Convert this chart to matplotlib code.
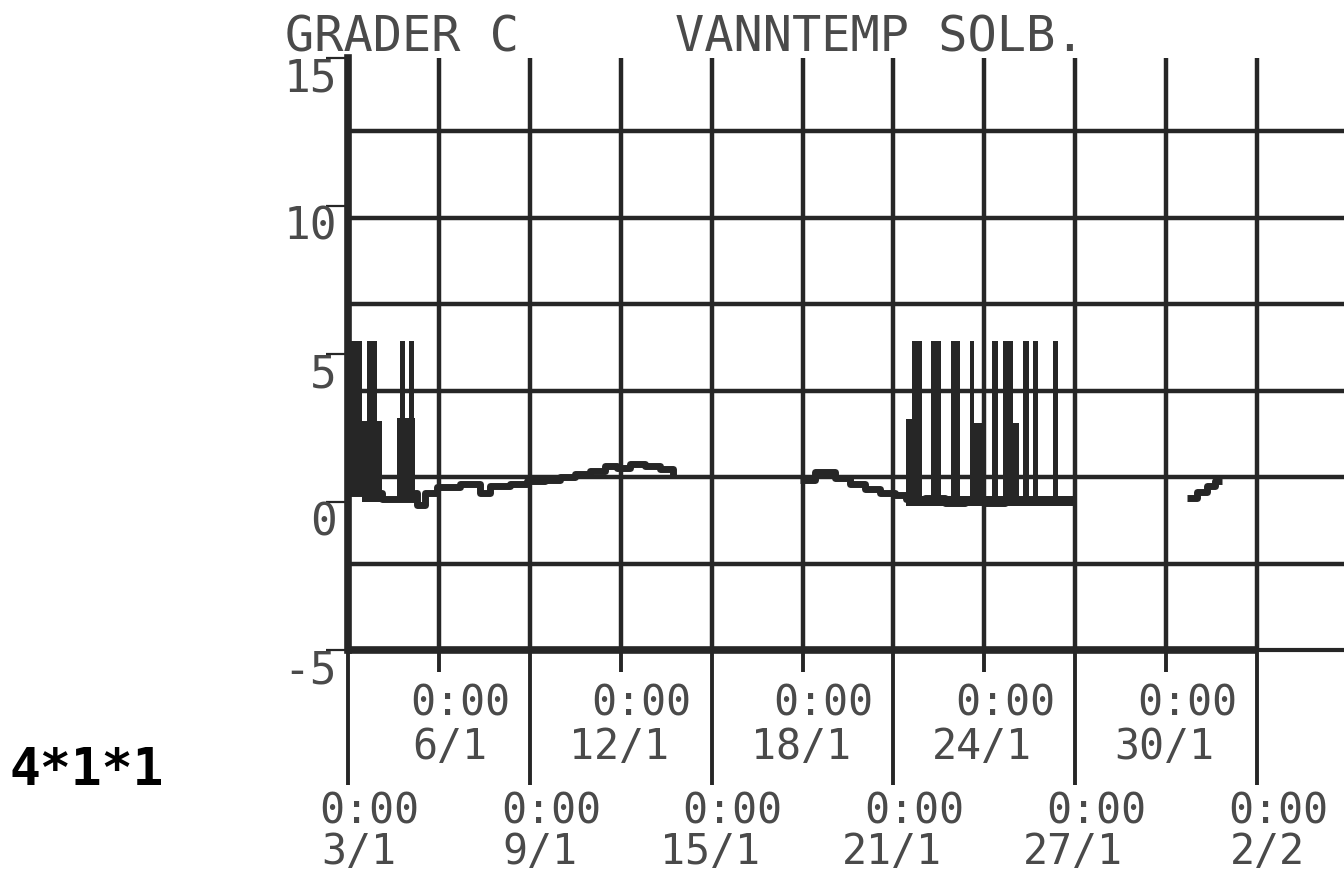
import numpy as np
import matplotlib
matplotlib.use("Agg")
import matplotlib.pyplot as plt
from matplotlib import transforms

# ---------------- data (days since 3/1 0:00, degrees C) ----------------
seg1_days = [0.0, 1.12, 1.62, 2.21, 2.28, 2.54, 2.94, 3.70, 4.36, 4.69, 5.35,
             5.90, 6.50, 7.00, 7.50, 7.99, 8.48, 8.88, 9.30, 9.80, 10.30, 10.73]
seg1_temp = [0.3, 0.1, 0.1, 0.3, -0.1, 0.3, 0.5, 0.6, 0.3, 0.55, 0.6,
             0.7, 0.75, 0.85, 0.95, 1.05, 1.2, 1.15, 1.3, 1.2, 1.1, 0.9]

seg2_days = [14.92, 15.41, 16.07, 16.57, 17.06, 17.56, 18.05, 18.42, 19.04,
             19.70, 20.36, 21.02, 21.68, 22.34, 23.00, 23.50, 23.96]
seg2_temp = [0.75, 1.0, 0.8, 0.6, 0.45, 0.3, 0.25, 0.1, 0.15,
             -0.05, 0.0, -0.05, 0.05, 0.0, 0.05, 0.0, 0.0]

seg3_days = [27.69, 28.02, 28.35, 28.61, 28.84]
seg3_temp = [0.15, 0.35, 0.55, 0.7, 0.7]

# dense oscillation blocks (start day, end day, low, high)
block_start = [0.0, 0.46, 0.63, 1.62, 1.72, 2.01,
               18.42, 18.42, 18.61, 19.24, 19.90, 20.53, 20.66, 21.25, 21.62, 21.95, 22.28, 22.61, 23.27]
block_end = [0.46, 1.12, 0.96, 2.21, 1.88, 2.18,
             23.96, 18.61, 18.94, 19.57, 20.20, 20.66, 21.02, 21.45, 21.95, 22.15, 22.48, 22.77, 23.43]
block_low = [0.2, 0.0, 0.0, 0.0, 0.0, 0.0,
             -0.15, 0.0, 0.0, 0.0, 0.0, 0.0, 0.0, 0.0, 0.0, 0.0, 0.0, 0.0, 0.0]
block_high = [5.45, 2.75, 5.45, 2.85, 5.45, 5.45,
              0.2, 2.8, 5.45, 5.45, 5.45, 5.45, 2.66, 5.45, 5.45, 2.66, 5.45, 5.45, 5.45]

# axis labels
lower_dates = ["3/1", "9/1", "15/1", "21/1", "27/1", "2/2"]
upper_dates = ["6/1", "12/1", "18/1", "24/1", "30/1"]
time_label = "0:00"
y_ticks = [-5, 0, 5, 10, 15]
y_labels = ["-5", "0", "5", "10", "15"]
title_left = "GRADER C"
title_right = "VANNTEMP SOLB."
corner_note = "4*1*1"

# ---------------- layout / style ----------------
W, H, DPI = 1344, 875, 100
INK = "#262626"
TXT = "#4a4a4a"
MONO = ["DejaVu Sans Mono"]
FS = 30
px_per_day = 30.3
ax_l, ax_r, ax_t, ax_b = 348, 1344, 58, 650

fig = plt.figure(figsize=(W / DPI, H / DPI), dpi=DPI)
fig.patch.set_facecolor("white")
ax = fig.add_axes([ax_l / W, 1 - ax_b / H, (ax_r - ax_l) / W, (ax_b - ax_t) / H])
ax.set_xlim(0, (ax_r - ax_l) / px_per_day)
ax.set_ylim(-5, 15)

x_major = np.arange(0, 31, 6)
x_minor = np.arange(3, 31, 6)
y_grid = -5 + 2.92 * np.arange(1, 7)

ax.set_xticks(x_major)
ax.set_xticks(x_minor, minor=True)
ax.set_xticklabels([])
ax.set_yticks(y_ticks, y_labels)
ax.set_yticks(y_grid, minor=True)

ax.grid(True, which="both", axis="x", color=INK, lw=3.2, zorder=1)
ax.grid(True, which="minor", axis="y", color=INK, lw=3.2, zorder=1)
ax.set_axisbelow(True)

ax.tick_params(axis="x", which="major", length=97, width=2.8, color=INK,
               direction="out", labelbottom=False)
ax.tick_params(axis="x", which="minor", length=16, width=2.8, color=INK,
               direction="out", labelbottom=False)
ax.tick_params(axis="y", which="major", length=16, width=1.6, color=INK,
               direction="out", pad=-8, labelsize=32, labelcolor=TXT)
ax.tick_params(axis="y", which="minor", length=0)
for lab in ax.get_yticklabels():
    lab.set_fontfamily(MONO)
    lab.set_verticalalignment("top")

for s in ("top", "right"):
    ax.spines[s].set_visible(False)
ax.spines["left"].set_linewidth(5.5)
ax.spines["left"].set_color(INK)
ax.spines["bottom"].set_linewidth(3.0)
ax.spines["bottom"].set_color(INK)
ax.hlines(-5, x_major[0], x_major[-1], color=INK, lw=5.5, zorder=3, clip_on=False)

# data
ax.bar(block_start, np.array(block_high) - np.array(block_low), bottom=block_low,
       width=np.array(block_end) - np.array(block_start), align="edge",
       color=INK, linewidth=0, zorder=4)
for d, t in ((seg1_days, seg1_temp), (seg2_days, seg2_temp), (seg3_days, seg3_temp)):
    ax.plot(d, t, drawstyle="steps-post", color=INK, lw=5, solid_capstyle="butt", zorder=5)

# x labels (two staggered rows)
base = transforms.blended_transform_factory(ax.transData, ax.transAxes)


def off(dx, dy):
    return transforms.offset_copy(base, fig=fig, x=dx, y=dy, units="dots")


tk = dict(fontsize=FS, family=MONO, color=TXT, clip_on=False)
for d, lab in zip(x_minor, upper_dates):
    ax.text(d, 0, time_label, transform=off(21, -32), ha="center", va="top", **tk)
    ax.text(d, 0, lab, transform=off(48, -76), ha="right", va="top", **tk)
for d, lab in zip(x_major, lower_dates):
    ax.text(d, 0, time_label, transform=off(21, -140), ha="center", va="top", **tk)
    ax.text(d, 0, lab, transform=off(48, -223), ha="right", va="bottom", **tk)

# titles and note
fig.text(285 / W, 1 - 14 / H, title_left, fontsize=35, family=MONO, color=TXT,
         ha="left", va="top")
fig.text(675 / W, 1 - 14 / H, title_right, fontsize=35, family=MONO, color=TXT,
         ha="left", va="top")
fig.text(10 / W, 1 - 746 / H, corner_note, fontsize=37, family=MONO, color="black",
         weight="bold", ha="left", va="top")

fig.savefig("out.png", dpi=DPI, facecolor="white")
